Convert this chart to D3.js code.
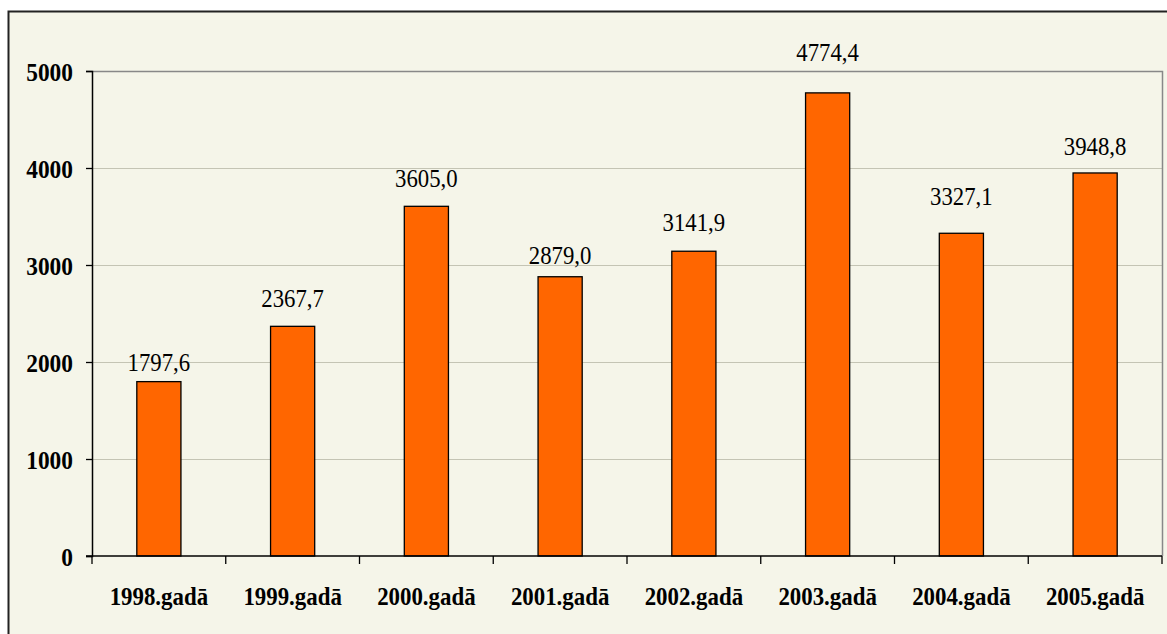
<!DOCTYPE html>
<html>
<head>
<meta charset="utf-8">
<script src="https://cdn.jsdelivr.net/npm/d3@7"></script>
<style>
  body { margin: 0; background: #fff; }
  svg { display: block; }
</style>
</head>
<body>
<svg id="canvas"></svg>
<script>
const width = 1167;
const height = 634;

// data
const years = ["1998.gadā", "1999.gadā", "2000.gadā", "2001.gadā", "2002.gadā", "2003.gadā", "2004.gadā", "2005.gadā"];
const values = [1797.6, 2367.7, 3605.0, 2879.0, 3141.9, 4774.4, 3327.1, 3948.8];
const yTicks = [0, 1000, 2000, 3000, 4000, 5000];

// labels were moved by hand in the original, gap above each bar (px)
const labelGap = [11, 19, 19, 13, 20, 32, 28, 18];

const serif = "'Liberation Serif', 'Times New Roman', serif";

const svg = d3.select("#canvas")
    .attr("width", width)
    .attr("height", height);

// chart background + outer frame
svg.append("rect")
    .attr("x", 8.5).attr("y", 11.5)
    .attr("width", width + 10).attr("height", height)
    .attr("fill", "#f5f5e9")
    .attr("stroke", "#222")
    .attr("stroke-width", 2);

const plot = { left: 92, top: 71, right: 1162, bottom: 556 };

const x = d3.scaleBand()
    .domain(years)
    .range([plot.left, plot.right])
    .paddingInner(0.67)
    .paddingOuter(0.335);

const band = d3.scaleBand().domain(years).range([plot.left, plot.right]);

const y = d3.scaleLinear()
    .domain([0, 5000])
    .range([plot.bottom, plot.top]);

// gridlines
svg.append("g")
    .selectAll("line")
    .data(yTicks.filter(d => d > 0 && d < 5000))
    .enter()
    .append("line")
    .attr("x1", plot.left).attr("x2", plot.right)
    .attr("y1", d => Math.round(y(d)) + 0.5).attr("y2", d => Math.round(y(d)) + 0.5)
    .attr("stroke", "#c4c4b4")
    .attr("stroke-width", 1);

// plot border top/right
svg.append("path")
    .attr("d", `M${plot.left},${plot.top + 0.5}H${plot.right + 0.5}V${plot.bottom}`)
    .attr("fill", "none")
    .attr("stroke", "#888")
    .attr("stroke-width", 1.5);

// bars
svg.append("g")
    .selectAll("rect")
    .data(values)
    .enter()
    .append("rect")
    .attr("x", (d, i) => x(years[i]))
    .attr("y", d => y(d))
    .attr("width", x.bandwidth())
    .attr("height", d => plot.bottom - y(d))
    .attr("fill", "#ff6600")
    .attr("stroke", "#000")
    .attr("stroke-width", 1.3);

// value labels (narrow serif like the original)
svg.append("g")
    .selectAll("text")
    .data(values)
    .enter()
    .append("text")
    .attr("transform", (d, i) => `translate(${x(years[i]) + x.bandwidth() / 2},${y(d) - labelGap[i]}) scale(0.91,1)`)
    .attr("text-anchor", "middle")
    .attr("font-family", serif)
    .attr("font-size", 25)
    .attr("fill", "#000")
    .text(d => d.toFixed(1).replace(".", ","));

// y axis
const yAxis = svg.append("g")
    .attr("transform", `translate(${plot.left},0)`)
    .call(d3.axisLeft(y).tickValues(yTicks).tickSize(6).tickFormat(""));
yAxis.select(".domain").attr("stroke", "#000").attr("stroke-width", 1.5);
yAxis.selectAll(".tick line").attr("stroke", "#000").attr("stroke-width", 1.3);

svg.append("g")
    .selectAll("text")
    .data(yTicks)
    .enter()
    .append("text")
    .attr("transform", d => `translate(73,${y(d) + 9.5}) scale(0.9,1)`)
    .attr("text-anchor", "end")
    .attr("font-family", serif)
    .attr("font-size", 26)
    .attr("font-weight", "bold")
    .attr("fill", "#000")
    .text(d => d);

// x axis
svg.append("line")
    .attr("x1", plot.left - 6).attr("x2", plot.right)
    .attr("y1", plot.bottom).attr("y2", plot.bottom)
    .attr("stroke", "#000").attr("stroke-width", 1.5);

svg.append("g")
    .selectAll("line")
    .data(years.concat(["end"]))
    .enter()
    .append("line")
    .attr("x1", (d, i) => plot.left + i * band.bandwidth())
    .attr("x2", (d, i) => plot.left + i * band.bandwidth())
    .attr("y1", plot.bottom).attr("y2", plot.bottom + 8)
    .attr("stroke", "#000").attr("stroke-width", 1.3);

svg.append("g")
    .selectAll("text")
    .data(years)
    .enter()
    .append("text")
    .attr("transform", d => `translate(${band(d) + band.bandwidth() / 2},605) scale(0.88,1)`)
    .attr("text-anchor", "middle")
    .attr("font-family", serif)
    .attr("font-size", 26)
    .attr("font-weight", "bold")
    .attr("fill", "#000")
    .text(d => d);
</script>
</body>
</html>
